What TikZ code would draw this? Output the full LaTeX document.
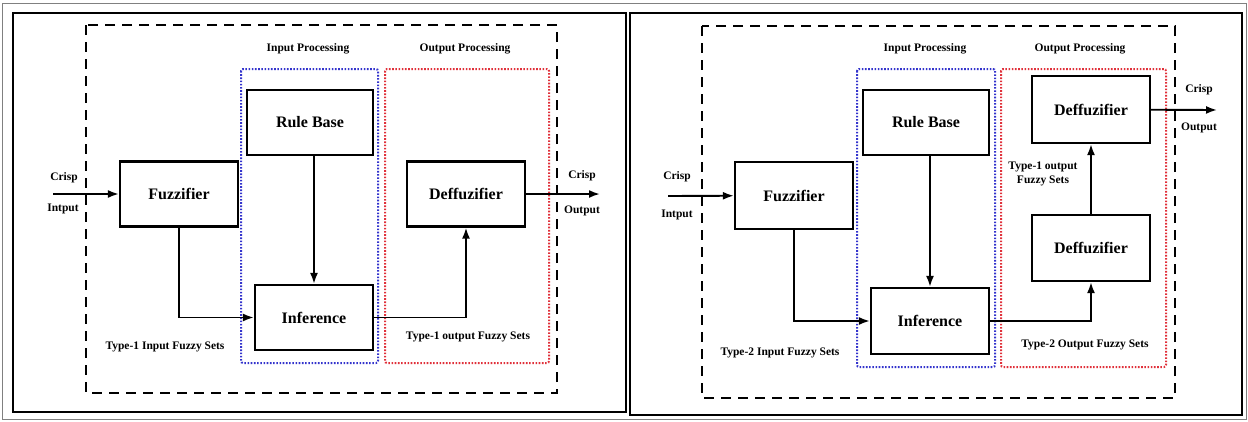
\documentclass[tikz,border=0pt]{standalone}
\usepackage{fontspec}
\setmainfont{Liberation Serif}
\usetikzlibrary{arrows.meta}
\definecolor{procBlue}{HTML}{3333CC}
\definecolor{procRed}{HTML}{E0303A}

\begin{document}
\begin{tikzpicture}[x=1pt, y=-1pt, >={Latex[length=11pt,width=8pt]},
          blk/.style={draw, line width=2.2pt, minimum width=118pt, minimum height=65pt, inner sep=0pt, font=\fontsize{16}{18}\selectfont\bfseries},
          lbl/.style={inner sep=1pt, align=center, font=\fontsize{11.5}{14}\selectfont\bfseries},
          flow/.style={->, line width=1.9pt},
          panel/.style={draw, line width=2.2pt},
          outerbox/.style={draw, dash pattern=on 10pt off 7pt, line width=2.2pt},
          inbox/.style={draw=procBlue, dash pattern=on 1.6pt off 1.6pt, line width=2pt, rounded corners=2pt},
          outbox/.style={draw=procRed, dash pattern=on 1.6pt off 1.6pt, line width=2pt, rounded corners=2pt}]
        \useasboundingbox (0,0) rectangle (1248,421);
        \draw[gray, line width=0.8pt] (2,3) rectangle (1246,419);
        % left panel: type-1 system
        \draw[panel] (13,13) rectangle (626,412);
        \draw[outerbox] (86,25) rectangle (557,393);
        \draw[inbox] (241,69) rectangle (378,363);
        \draw[outbox] (385,69) rectangle (549,363);
        \node[lbl] (ip1) at (308,49) {Input Processing};
        \node[lbl] (op1) at (465,49) {Output Processing};
        \node[blk, minimum width=126pt] (rb1) at (310,122.5) {Rule Base};
        \node[blk] (fz1) at (179,194) {Fuzzifier};
        \node[blk] (inf1) at (314,317.5) {Inference};
        \node[blk] (df1) at (466,194) {Deffuzifier};
        \coordinate (ci1) at (53,194);
        \coordinate (co1) at (600,194);
        \node[lbl] (ci1a) at (64,178) {Crisp};
        \node[lbl] (ci1b) at (63,209) {Intput};
        \node[lbl] (co1a) at (582,176) {Crisp};
        \node[lbl] (co1b) at (582,211) {Output};
        \node[lbl] (ts1) at (165,347) {Type-1 Input Fuzzy Sets};
        \node[lbl] (to1) at (468,337) {Type-1 output Fuzzy Sets};
        \draw[flow] (ci1) -- (fz1);
        \draw[flow] (inf1.north |- rb1.south) -- (inf1.north);
        \draw[flow] (fz1.south) |- (inf1.west);
        \draw[flow] (inf1.east) -| (df1.south);
        \draw[flow] (df1) -- (co1);
        % right panel: type-2 system
        \draw[panel] (630,13) rectangle (1242,415);
        \draw[outerbox] (702,26) rectangle (1175,398);
        \draw[inbox] (857,69) rectangle (995,367);
        \draw[outbox] (1001,69) rectangle (1166,367);
        \node[lbl] (ip2) at (925,49) {Input Processing};
        \node[lbl] (op2) at (1080,49) {Output Processing};
        \node[blk, minimum width=126pt] (rb2) at (926,122.5) {Rule Base};
        \node[blk, minimum height=67pt] (fz2) at (794,195.5) {Fuzzifier};
        \node[blk, minimum height=66pt] (inf2) at (930,321) {Inference};
        \node[blk, minimum height=67pt] (dft2) at (1091,109.5) {Deffuzifier};
        \node[blk, minimum height=66pt] (dfb2) at (1091,248) {Deffuzifier};
        \coordinate (ci2) at (668,196);
        \coordinate (co2) at (1217,110);
        \node[lbl] (ci2a) at (677,177) {Crisp};
        \node[lbl] (ci2b) at (677,215) {Intput};
        \node[lbl] (co2a) at (1199,90) {Crisp};
        \node[lbl] (co2b) at (1199,128) {Output};
        \node[lbl] (tm2) at (1043,174) {Type-1 output\\Fuzzy Sets};
        \node[lbl] (ts2) at (780,353) {Type-2 Input Fuzzy Sets};
        \node[lbl] (to2) at (1085,345) {Type-2 Output Fuzzy Sets};
        \draw[flow] (ci2) -- (fz2);
        \draw[flow] (inf2.north |- rb2.south) -- (inf2.north);
        \draw[flow] (fz2.south) |- (inf2.west);
        \draw[flow] (inf2.east) -| (dfb2.south);
        \draw[flow] (dfb2) -- (dft2);
        \draw[flow] (dft2) -- (co2);
      \end{tikzpicture}
\end{document}
